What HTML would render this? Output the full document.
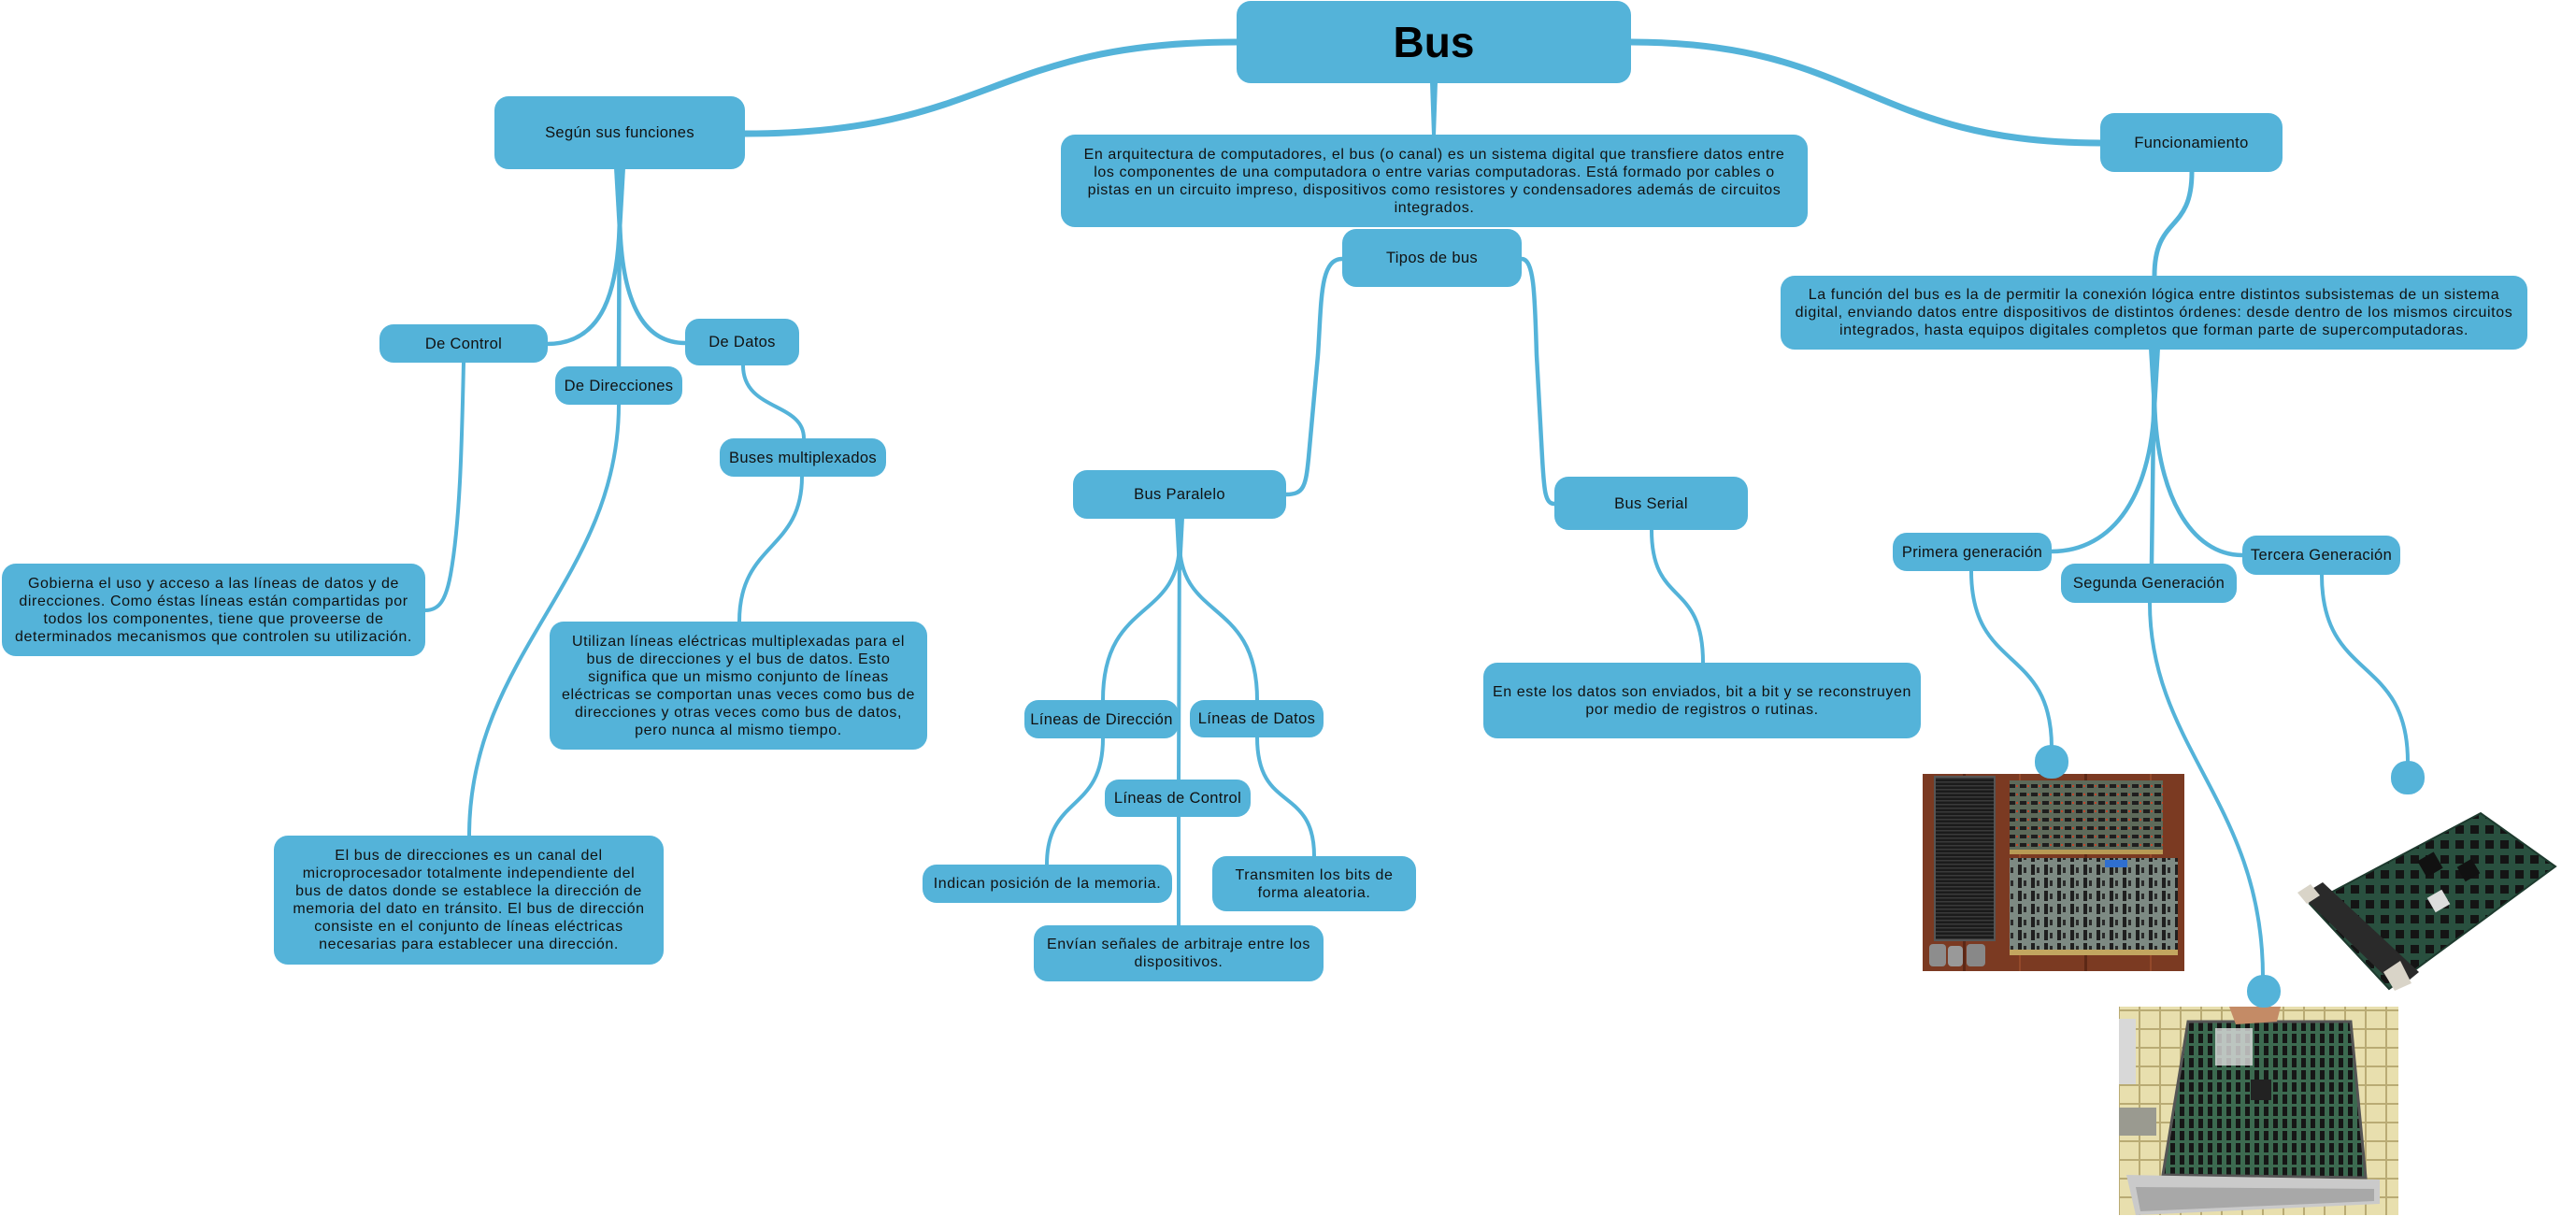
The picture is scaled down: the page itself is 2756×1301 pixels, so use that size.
<!DOCTYPE html>
<html>
<head>
<meta charset="utf-8">
<style>
  html,body{margin:0;padding:0;background:#fff;}
  body{width:2756px;height:1301px;position:relative;overflow:hidden;font-family:"Liberation Sans",Arial,sans-serif;color:#111;}
  svg.bg{position:absolute;left:0;top:0;}
  .b{position:absolute;background:#54b3d9;border-radius:15px;display:flex;align-items:center;justify-content:center;text-align:center;white-space:nowrap;box-sizing:border-box;}
  .l{font-size:16.5px;line-height:20px;letter-spacing:0.35px;}
  .d{font-size:16px;line-height:19px;letter-spacing:0.6px;}
  .t{font-size:46px;font-weight:bold;color:#000;}
</style>
</head>
<body>
<svg class="bg" width="2756" height="1301" viewBox="0 0 2756 1301" xmlns="http://www.w3.org/2000/svg">
  <defs>
    <pattern id="grille" width="4" height="4" patternUnits="userSpaceOnUse">
      <rect width="4" height="4" fill="#1b1b1b"/>
      <rect width="4" height="1.5" fill="#3a3a3a"/>
    </pattern>
    <pattern id="chipsR" width="12" height="9" patternUnits="userSpaceOnUse">
      <rect width="12" height="9" fill="#5e6a5a"/>
      <rect x="1" y="2" width="7" height="4" fill="#1e1e1e"/>
      <rect x="9" y="3" width="2" height="2" fill="#c4452a"/>
    </pattern>
    <pattern id="chipsG" width="14" height="14" patternUnits="userSpaceOnUse">
      <rect width="14" height="14" fill="#7d8a83"/>
      <rect x="3" y="1" width="4" height="11" fill="#1f1f1f"/>
      <rect x="9" y="4" width="3" height="6" fill="#2a2a2a"/>
    </pattern>
    <pattern id="tiles" width="22" height="20" patternUnits="userSpaceOnUse">
      <rect width="22" height="20" fill="#e8dfae"/>
      <rect width="22" height="2" fill="#b9ab74"/>
      <rect width="2" height="20" fill="#b9ab74"/>
    </pattern>
    <pattern id="chipsB" width="10" height="13" patternUnits="userSpaceOnUse">
      <rect width="10" height="13" fill="#3c6a50"/>
      <rect x="2" y="1" width="5" height="10" fill="#161616"/>
    </pattern>
    <pattern id="chipsC" width="16" height="16" patternUnits="userSpaceOnUse">
      <rect width="16" height="16" fill="#29503f"/>
      <rect x="3" y="3" width="9" height="9" fill="#141414"/>
    </pattern>
  </defs>

  <g fill="none" stroke="#54b3d9" stroke-linecap="round">
    <path d="M797,143 C1060,143 1060,45 1323,45" stroke-width="7"/>
    <path d="M1745,45 C1990,45 2000,153 2247,153" stroke-width="7"/>

    <path d="M663,225 C663,312 645,368 585,368" stroke-width="4.5"/>
    <path d="M663,225 C663,312 683,367 733,367" stroke-width="4.5"/>
    <path d="M663,181 L662,392" stroke-width="4.5"/>

    <path d="M1436,277 C1412,277 1414,320 1410,380 L1400,490 C1397,520 1395,529 1376,529" stroke-width="4.5"/>
    <path d="M1628,277 C1642,277 1642,320 1644,380 L1650,490 C1652,525 1653,539 1663,539" stroke-width="4.5"/>

    <path d="M2345,184 C2345,250 2305,230 2305,295" stroke-width="5"/>
    <path d="M2305,374 L2302,603" stroke-width="4.5"/>
    <path d="M2305,420 C2305,530 2260,590 2195,590" stroke-width="4.5"/>
    <path d="M2305,420 C2305,530 2345,594 2399,594" stroke-width="4.5"/>

    <path d="M496,388 C494,480 492,560 482,615 C477,642 470,653 455,653" stroke-width="4"/>
    <path d="M662,433 C662,620 502,700 502,894" stroke-width="4"/>
    <path d="M795,391 C795,440 860,430 860,469" stroke-width="4"/>
    <path d="M858,510 C858,590 791,580 791,665" stroke-width="4"/>

    <path d="M1262,555 L1261,834" stroke-width="4"/>
    <path d="M1262,580 C1262,665 1180,640 1180,749" stroke-width="4"/>
    <path d="M1262,580 C1262,665 1345,640 1345,749" stroke-width="4"/>
    <path d="M1180,790 C1180,870 1120,850 1120,925" stroke-width="4"/>
    <path d="M1345,789 C1345,870 1406,840 1406,916" stroke-width="4"/>
    <path d="M1261,874 L1261,990" stroke-width="4"/>
    <path d="M1767,567 C1767,650 1822,620 1822,709" stroke-width="4"/>

    <path d="M2109,611 C2109,720 2195,690 2195,800" stroke-width="4"/>
    <path d="M2484,615 C2484,730 2576,700 2576,815" stroke-width="4"/>
    <path d="M2300,645 C2300,800 2421,860 2421,1045" stroke-width="4"/>
  </g>
  <polygon points="1530,88 1538,88 1536,145 1532,145" fill="#54b3d9"/>
  <polygon points="657,180 669,180 665,250 661,250" fill="#54b3d9"/>
  <polygon points="2299,373 2311,373 2307,440 2303,440" fill="#54b3d9"/>
  <polygon points="1257,554 1267,554 1264,610 1260,610" fill="#54b3d9"/>

  <!-- Image 1 -->
  <g>
    <rect x="2057" y="828" width="280" height="211" fill="#7b3a22"/>
    <rect x="2100" y="828" width="3" height="211" fill="#5c2816"/>
    <rect x="2160" y="828" width="2" height="211" fill="#94492a"/>
    <rect x="2230" y="828" width="3" height="211" fill="#5c2816"/>
    <rect x="2300" y="828" width="2" height="211" fill="#94492a"/>
    <rect x="2070" y="831" width="64" height="175" fill="url(#grille)"/>
    <rect x="2070" y="831" width="64" height="175" fill="none" stroke="#555" stroke-width="2"/>
    <rect x="2064" y="1010" width="18" height="24" rx="4" fill="#8d8d8d"/>
    <rect x="2084" y="1012" width="16" height="22" rx="4" fill="#999"/>
    <rect x="2104" y="1010" width="20" height="24" rx="4" fill="#888"/>
    <rect x="2150" y="835" width="164" height="77" fill="url(#chipsR)"/>
    <rect x="2150" y="909" width="164" height="5" fill="#b79a55"/>
    <rect x="2150" y="918" width="180" height="102" fill="url(#chipsG)"/>
    <rect x="2150" y="1016" width="180" height="6" fill="#c2a660"/>
    <rect x="2252" y="920" width="24" height="8" fill="#2f6fd0"/>
  </g>

  <!-- Image 2 -->
  <g>
    <rect x="2267" y="1077" width="299" height="223" fill="url(#tiles)"/>
    <rect x="2267" y="1090" width="18" height="70" fill="#d8d8d8"/>
    <rect x="2267" y="1185" width="40" height="30" fill="#9a9a90"/>
    <polygon points="2341,1093 2515,1093 2531,1260 2314,1257" fill="url(#chipsB)"/>
    <polygon points="2341,1093 2515,1093 2531,1260 2314,1257" fill="none" stroke="#555" stroke-width="3"/>
    <rect x="2370" y="1100" width="40" height="40" fill="#dcdcdc" opacity="0.8"/>
    <rect x="2408" y="1155" width="22" height="22" fill="#222"/>
    <path d="M2385,1077 L2440,1077 L2436,1093 L2392,1096 Z" fill="#c48b66"/>
    <polygon points="2275,1257 2546,1262 2546,1288 2285,1300" fill="#cacaca"/>
    <polygon points="2285,1270 2540,1272 2540,1285 2290,1296" fill="#a8a8a8"/>
  </g>

  <!-- Image 3 -->
  <g>
    <polygon points="2471,967 2654,870 2734,927 2556,1058" fill="url(#chipsC)"/>
    <polygon points="2471,967 2654,870 2734,927 2556,1058" fill="none" stroke="#1d3a2e" stroke-width="2"/>
    <polygon points="2462,958 2485,944 2588,1040 2566,1058" fill="#2a2a2a"/>
    <polygon points="2458,955 2472,946 2482,958 2468,967" fill="#d9d4c8"/>
    <polygon points="2550,1040 2568,1028 2580,1052 2562,1060" fill="#d9d4c8"/>
    <rect x="2600" y="955" width="18" height="18" fill="#ddd" transform="rotate(-30 2609 964)"/>
    <rect x="2590" y="915" width="20" height="20" fill="#111" transform="rotate(-30 2600 925)"/>
    <rect x="2632" y="922" width="18" height="18" fill="#111" transform="rotate(-30 2641 931)"/>
  </g>

  <rect x="2177" y="797" width="36" height="36" rx="17" fill="#54b3d9"/>
  <rect x="2404" y="1043" width="36" height="35" rx="17" fill="#54b3d9"/>
  <rect x="2558" y="814" width="36" height="36" rx="17" fill="#54b3d9"/>
</svg>

<div class="b t" style="left:1323px;top:1px;width:422px;height:88px;">Bus</div>
<div class="b l" style="left:529px;top:103px;width:268px;height:78px;">Según sus funciones</div>
<div class="b d" style="left:1135px;top:144px;width:799px;height:99px;">En arquitectura de computadores, el bus (o canal) es un sistema digital que transfiere datos entre<br>los componentes de una computadora o entre varias computadoras. Está formado por cables o<br>pistas en un circuito impreso, dispositivos como resistores y condensadores además de circuitos<br>integrados.</div>
<div class="b l" style="left:1436px;top:245px;width:192px;height:62px;">Tipos de bus</div>
<div class="b l" style="left:2247px;top:121px;width:195px;height:63px;">Funcionamiento</div>
<div class="b d" style="left:1905px;top:295px;width:799px;height:79px;">La función del bus es la de permitir la conexión lógica entre distintos subsistemas de un sistema<br>digital, enviando datos entre dispositivos de distintos órdenes: desde dentro de los mismos circuitos<br>integrados, hasta equipos digitales completos que forman parte de supercomputadoras.</div>

<div class="b l" style="left:406px;top:347px;width:180px;height:41px;">De Control</div>
<div class="b l" style="left:594px;top:392px;width:136px;height:41px;">De Direcciones</div>
<div class="b l" style="left:733px;top:341px;width:122px;height:50px;">De Datos</div>
<div class="b l" style="left:770px;top:469px;width:178px;height:41px;">Buses multiplexados</div>
<div class="b d" style="left:2px;top:603px;width:453px;height:99px;">Gobierna el uso y acceso a las líneas de datos y de<br>direcciones. Como éstas líneas están compartidas por<br>todos los componentes, tiene que proveerse de<br>determinados mecanismos que controlen su utilización.</div>
<div class="b d" style="left:588px;top:665px;width:404px;height:137px;">Utilizan líneas eléctricas multiplexadas para el<br>bus de direcciones y el bus de datos. Esto<br>significa que un mismo conjunto de líneas<br>eléctricas se comportan unas veces como bus de<br>direcciones y otras veces como bus de datos,<br>pero nunca al mismo tiempo.</div>
<div class="b d" style="left:293px;top:894px;width:417px;height:138px;">El bus de direcciones es un canal del<br>microprocesador totalmente independiente del<br>bus de datos donde se establece la dirección de<br>memoria del dato en tránsito. El bus de dirección<br>consiste en el conjunto de líneas eléctricas<br>necesarias para establecer una dirección.</div>

<div class="b l" style="left:1148px;top:503px;width:228px;height:52px;">Bus Paralelo</div>
<div class="b l" style="left:1663px;top:510px;width:207px;height:57px;">Bus Serial</div>
<div class="b d" style="left:1587px;top:709px;width:468px;height:81px;">En este los datos son enviados, bit a bit y se reconstruyen<br>por medio de registros o rutinas.</div>
<div class="b l" style="left:1096px;top:749px;width:165px;height:41px;">Líneas de Dirección</div>
<div class="b l" style="left:1273px;top:749px;width:143px;height:40px;">Líneas de Datos</div>
<div class="b l" style="left:1182px;top:834px;width:156px;height:40px;">Líneas de Control</div>
<div class="b d" style="left:987px;top:925px;width:267px;height:41px;">Indican posición de la memoria.</div>
<div class="b d" style="left:1297px;top:916px;width:218px;height:59px;">Transmiten los bits de<br>forma aleatoria.</div>
<div class="b d" style="left:1106px;top:990px;width:310px;height:60px;">Envían señales de arbitraje entre los<br>dispositivos.</div>

<div class="b l" style="left:2025px;top:570px;width:170px;height:41px;">Primera generación</div>
<div class="b l" style="left:2205px;top:603px;width:188px;height:42px;">Segunda Generación</div>
<div class="b l" style="left:2399px;top:573px;width:169px;height:42px;">Tercera Generación</div>
</body>
</html>
